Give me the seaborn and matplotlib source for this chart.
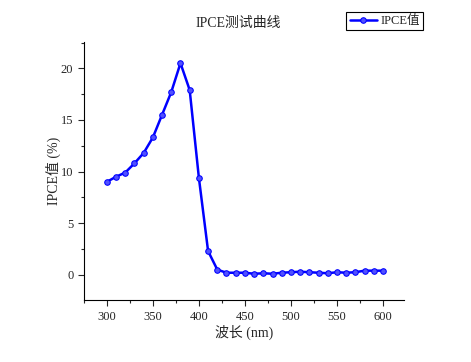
import numpy as np
import pandas as pd
import seaborn as sns
import matplotlib.pyplot as plt
from matplotlib.ticker import MultipleLocator

wavelength = [300, 310, 320, 330, 340, 350, 360, 370, 380, 390, 400, 410, 420,
              430, 440, 450, 460, 470, 480, 490, 500, 510, 520, 530, 540, 550,
              560, 570, 580, 590, 600]
ipce = [9.0, 9.5, 9.9, 10.8, 11.8, 13.3, 15.5, 17.7, 20.5, 17.9, 9.4, 2.3, 0.5,
        0.2, 0.2, 0.2, 0.1, 0.15, 0.1, 0.2, 0.25, 0.3, 0.25, 0.2, 0.15, 0.25,
        0.2, 0.25, 0.4, 0.4, 0.4]

sns.set_style("white")
plt.rcParams['font.family'] = ['Liberation Serif', 'Noto Sans CJK SC']
plt.rcParams['font.size'] = 9

df = pd.DataFrame({"wl": wavelength, "ipce": ipce})

fig = plt.figure(figsize=(4.71, 3.62), dpi=100)
ax = fig.add_axes([0.178, 0.171, 0.68, 0.713])

sns.lineplot(data=df, x="wl", y="ipce", ax=ax, color="#0000ff", linewidth=1.8,
             marker="o", markersize=4, markeredgecolor="#0000ff",
             markerfacecolor="#5050ff", label="IPCE值")

ax.set_xlim(275, 623)
ax.set_ylim(-2.45, 22.55)
ax.xaxis.set_major_locator(MultipleLocator(50))
ax.xaxis.set_minor_locator(MultipleLocator(25))
ax.yaxis.set_major_locator(MultipleLocator(5))
ax.yaxis.set_minor_locator(MultipleLocator(2.5))
ax.tick_params(which="major", direction="out", length=4, width=0.8,
               bottom=True, left=True, labelsize=9)
ax.tick_params(which="minor", direction="out", length=2.5, width=0.8,
               bottom=True, left=True)
ax.set_xticks(range(300, 601, 50))

for s in ["top", "right"]:
    ax.spines[s].set_visible(False)
for s in ["left", "bottom"]:
    ax.spines[s].set_color("black")
    ax.spines[s].set_linewidth(0.8)

ax.set_xlabel("波长 (nm)", fontsize=10)
ax.set_ylabel("IPCE值 (%)", fontsize=10)
ax.xaxis.set_label_coords(0.5, -0.095)
ax.yaxis.set_label_coords(-0.072, 0.5)
fig.text(0.505, 0.935, "IPCE测试曲线", ha="center", va="center", fontsize=10)

leg = ax.legend(loc="upper left", bbox_to_anchor=(0.82, 1.116), frameon=True,
                fancybox=False, framealpha=1, edgecolor="black", fontsize=9,
                handlelength=2.2, handletextpad=0.3, borderpad=0.25,
                borderaxespad=0)
leg.get_frame().set_linewidth(0.8)

plt.savefig("out.png", dpi=100)
